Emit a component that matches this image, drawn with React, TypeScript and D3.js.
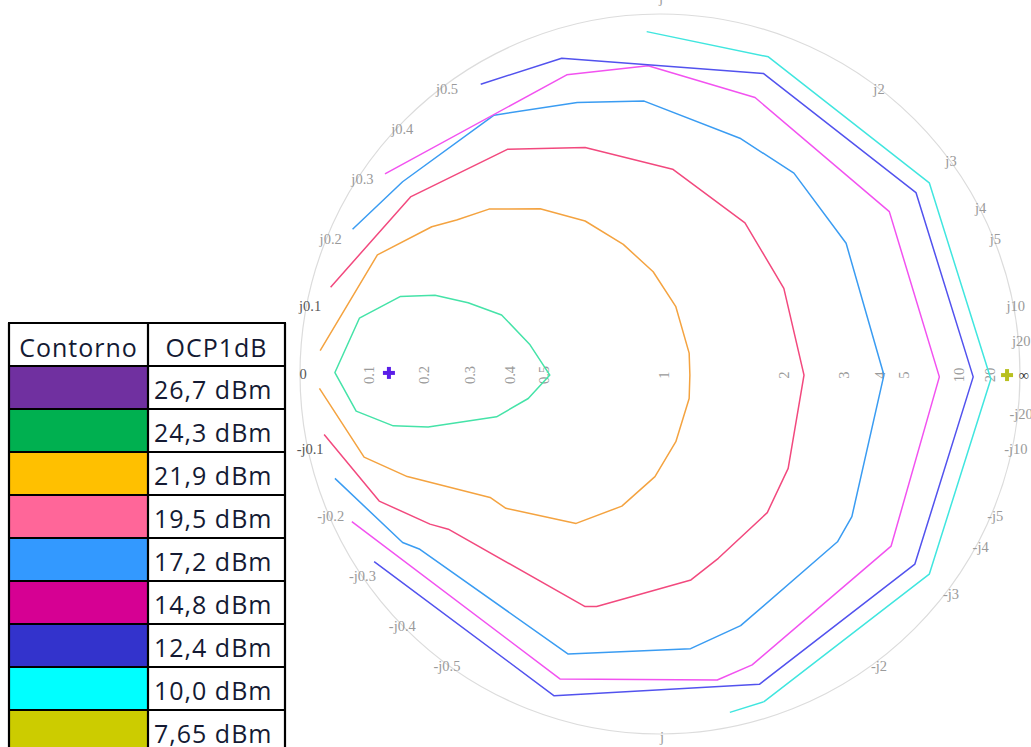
import React from "react";
import * as d3 from "d3";

// ---------- data (reflection coefficient Γ: [real, imag]) ----------
const legendLabels = ["26,7 dBm", "24,3 dBm", "21,9 dBm", "19,5 dBm", "17,2 dBm", "14,8 dBm", "12,4 dBm", "10,0 dBm", "7,65 dBm"];
const legendColors = ["#7030a0", "#00b050", "#ffc000", "#ff6699", "#3399ff", "#d60093", "#3333cc", "#00ffff", "#cccc00"];

const contour243: [number, number][] = [
  [-0.903, 0.004], [-0.835, 0.155], [-0.722, 0.215], [-0.625, 0.219], [-0.533, 0.198], [-0.44, 0.164],
  [-0.361, 0.081], [-0.306, -0.003], [-0.366, -0.068], [-0.454, -0.119], [-0.644, -0.147], [-0.741, -0.144],
  [-0.844, -0.103],
];
const contour219: [number, number][] = [
  [-0.944, 0.065], [-0.785, 0.331], [-0.634, 0.409], [-0.565, 0.428], [-0.475, 0.458], [-0.333, 0.459],
  [-0.208, 0.425], [-0.102, 0.36], [-0.019, 0.284], [0.044, 0.187], [0.081, 0.058], [0.083, -0.003],
  [0.081, -0.068], [0.044, -0.188], [-0.014, -0.285], [-0.106, -0.367], [-0.233, -0.415], [-0.428, -0.373],
  [-0.472, -0.343], [-0.702, -0.285], [-0.822, -0.231], [-0.946, -0.04],
];
const contour195: [number, number][] = [
  [-0.915, 0.241], [-0.693, 0.492], [-0.424, 0.624], [-0.208, 0.629], [0.035, 0.569], [0.236, 0.42],
  [0.344, 0.238], [0.4, -0.003], [0.356, -0.262], [0.298, -0.385], [0.162, -0.512], [0.086, -0.572],
  [-0.176, -0.646], [-0.208, -0.646], [-0.588, -0.431], [-0.639, -0.417], [-0.78, -0.353], [-0.933, -0.168],
];
const contour172: [number, number][] = [
  [-0.854, 0.402], [-0.715, 0.534], [-0.461, 0.719], [-0.23, 0.754], [-0.044, 0.758], [0.222, 0.655],
  [0.372, 0.558], [0.517, 0.363], [0.622, -0.003], [0.533, -0.396], [0.493, -0.466], [0.224, -0.699],
  [0.085, -0.763], [-0.255, -0.778], [-0.667, -0.487], [-0.715, -0.468], [-0.903, -0.29],
];
const contour148: [number, number][] = [
  [-0.764, 0.556], [-0.259, 0.831], [-0.033, 0.856], [0.264, 0.768], [0.637, 0.451], [0.776, -0.008],
  [0.642, -0.478], [0.256, -0.808], [0.159, -0.85], [-0.278, -0.847], [-0.856, -0.41],
];
const contour124: [number, number][] = [
  [-0.498, 0.805], [-0.273, 0.877], [0.287, 0.835], [0.711, 0.504], [0.87, -0.008], [0.708, -0.528],
  [0.276, -0.862], [-0.294, -0.894], [-0.794, -0.521],
];
const contour100: [number, number][] = [
  [-0.037, 0.951], [0.301, 0.881], [0.748, 0.531], [0.919, -0.014], [0.748, -0.556], [0.289, -0.91],
  [0.194, -0.94],
];

const optimumMarker: [number, number] = [-0.753, 0.003];
const lowMarker: [number, number] = [0.964, -0.003];

const resistanceTicks = [0.1, 0.2, 0.3, 0.4, 0.5, 1, 2, 3, 4, 5, 10, 20];
const reactanceTicks = [0.1, 0.2, 0.3, 0.4, 0.5, 1, 2, 3, 4, 5, 10, 20];

const contours = [
  { pts: contour243, color: "#45e3a8", closed: true },
  { pts: contour219, color: "#f4a340", closed: false },
  { pts: contour195, color: "#f2497e", closed: false },
  { pts: contour172, color: "#3a9cf2", closed: false },
  { pts: contour148, color: "#f252f0", closed: false },
  { pts: contour124, color: "#5252ee", closed: false },
  { pts: contour100, color: "#40e6df", closed: false },
];

// ---------- layout ----------
const W = 1031, H = 747;
const CX = 660, CY = 374, R = 360;

export default function App() {
  const x = d3.scaleLinear().domain([-1, 1]).range([CX - R, CX + R]);
  const y = d3.scaleLinear().domain([-1, 1]).range([CY + R, CY - R]);
  const line = d3.line<[number, number]>().x((d) => x(d[0])).y((d) => y(d[1]));
  const closedLine = d3
    .line<[number, number]>()
    .x((d) => x(d[0]))
    .y((d) => y(d[1]))
    .curve(d3.curveLinearClosed);

  const fmt = (v: number) => String(v);

  const reactLabels: { text: string; px: number; py: number; dark: boolean }[] = [];
  reactanceTicks.forEach((xv) => {
    const re = (xv * xv - 1) / (xv * xv + 1);
    const im = (2 * xv) / (xv * xv + 1);
    const dark = xv === 0.1;
    if (xv === 1) {
      reactLabels.push({ text: "j", px: x(re) + 1, py: y(im) - 16, dark: false });
      reactLabels.push({ text: "j", px: x(re) + 2, py: y(-im) + 3, dark: false });
    } else {
      reactLabels.push({ text: "j" + fmt(xv), px: x(re) + 3, py: y(im) + 3, dark });
      reactLabels.push({ text: "-j" + fmt(xv), px: x(re) + 3, py: y(-im) + 4, dark });
    }
  });

  const tableX0 = 9, tableX1 = 148, tableX2 = 285;
  const rowY = d3.range(legendLabels.length + 2).map((i) => (i === 0 ? 323 : 366 + (i - 1) * 43));

  const plus = (p: [number, number], color: string) => {
    const px = x(p[0]), py = y(p[1]);
    return (
      <g>
        <line x1={px - 6} x2={px + 6} y1={py} y2={py} stroke={color} strokeWidth={4} />
        <line x1={px} x2={px} y1={py - 6} y2={py + 6} stroke={color} strokeWidth={4} />
      </g>
    );
  };

  return (
    <div style={{ position: "absolute", left: 0, top: 0, width: W, height: H, overflow: "hidden", background: "#fff" }}>
      <svg width={W} height={H} style={{ display: "block" }}>
        <rect width={W} height={H} fill="#fff" />
        {/* Smith chart outer circle */}
        <circle cx={CX} cy={CY} r={R} fill="none" stroke="#dcdcdc" strokeWidth={1.2} />

        {/* reactance labels */}
        <g fontFamily="'Liberation Serif', 'DejaVu Serif', serif" fontSize={14.5}>
          {reactLabels.map((l, i) => (
            <text key={i} x={l.px} y={l.py} textAnchor="middle" dominantBaseline="central" fill={l.dark ? "#555" : "#9a9a9a"}>
              {l.text}
            </text>
          ))}
          {/* resistance labels */}
          {resistanceTicks.map((r) => {
            const re = (r - 1) / (r + 1);
            const px = x(re) + 4;
            return (
              <text key={r} transform={`translate(${px},${CY + 1}) rotate(-90)`} textAnchor="middle" dominantBaseline="central" fill="#9a9a9a">
                {fmt(r)}
              </text>
            );
          })}
          <text x={x(-1) + 3} y={CY} textAnchor="middle" dominantBaseline="central" fill="#555">0</text>
          <text x={x(1) + 4} y={CY + 1} textAnchor="middle" dominantBaseline="central" fill="#333">∞</text>
        </g>

        {/* contours */}
        {contours.map((c, i) => (
          <path key={i} d={(c.closed ? closedLine(c.pts) : line(c.pts)) || ""} fill="none" stroke={c.color} strokeWidth={1.5} strokeLinejoin="round" />
        ))}

        {plus(optimumMarker, "#5a1ee8")}
        {plus(lowMarker, "#b8c020")}

        {/* legend table */}
        <g fontFamily="'Open Sans', 'Noto Sans', sans-serif" fontSize={25} fill="#141a33" letterSpacing={1}>
          <rect x={tableX0} y={rowY[0]} width={tableX2 - tableX0} height={rowY[1] - rowY[0]} fill="#fff" />
          <text x={(tableX0 + tableX1) / 2} y={rowY[0] + 34} textAnchor="middle">Contorno</text>
          <text x={(tableX1 + tableX2) / 2} y={rowY[0] + 34} textAnchor="middle">OCP1dB</text>
          {legendLabels.map((lab, i) => (
            <g key={lab}>
              <rect x={tableX0} y={rowY[i + 1]} width={tableX1 - tableX0} height={43} fill={legendColors[i]} />
              <text x={tableX1 + 6} y={rowY[i + 1] + 33}>{lab}</text>
            </g>
          ))}
          <g stroke="#000" strokeWidth={2.2} fill="none">
            <line x1={tableX0} x2={tableX0} y1={rowY[0]} y2={H + 10} />
            <line x1={tableX1} x2={tableX1} y1={rowY[0]} y2={H + 10} />
            <line x1={tableX2} x2={tableX2} y1={rowY[0]} y2={H + 10} />
            {rowY.map((ry, i) => (
              <line key={i} x1={tableX0 - 1} x2={tableX2 + 1} y1={ry} y2={ry} />
            ))}
          </g>
        </g>
      </svg>
    </div>
  );
}
